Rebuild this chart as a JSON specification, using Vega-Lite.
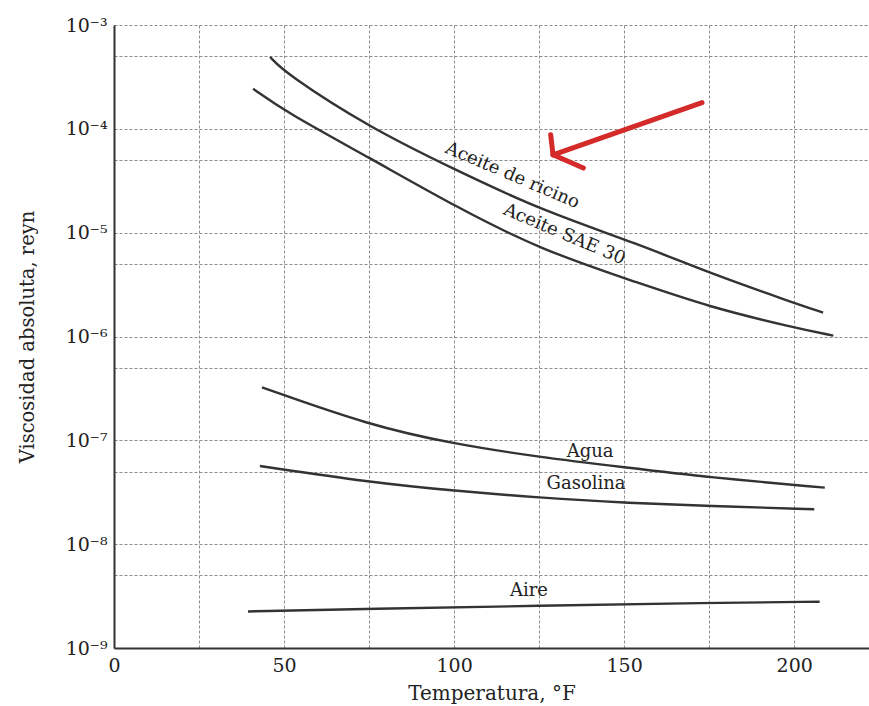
{
  "$schema": "https://vega.github.io/schema/vega-lite/v6.json",
  "width": 755,
  "height": 623,
  "autosize": {"type": "none"},
  "padding": {"left": 114, "top": 25, "right": 0, "bottom": 58},
  "background": "white",
  "config": {"view": {"stroke": null}, "font": "DejaVu Serif"},
  "datasets": {
    "curves": [
      {"fluid": "Aceite de ricino", "t": 45.9, "v": 4.92e-4},
      {"fluid": "Aceite de ricino", "t": 50.3, "v": 3.45e-4},
      {"fluid": "Aceite de ricino", "t": 75.3, "v": 1.02e-4},
      {"fluid": "Aceite de ricino", "t": 100.3, "v": 4.04e-5},
      {"fluid": "Aceite de ricino", "t": 125.3, "v": 1.66e-5},
      {"fluid": "Aceite de ricino", "t": 154.7, "v": 7.67e-6},
      {"fluid": "Aceite de ricino", "t": 174.7, "v": 4.12e-6},
      {"fluid": "Aceite de ricino", "t": 199.7, "v": 2.12e-6},
      {"fluid": "Aceite de ricino", "t": 208.5, "v": 1.70e-6},
      {"fluid": "Aceite SAE 30", "t": 40.9, "v": 2.43e-4},
      {"fluid": "Aceite SAE 30", "t": 50.3, "v": 1.47e-4},
      {"fluid": "Aceite SAE 30", "t": 75.3, "v": 5.22e-5},
      {"fluid": "Aceite SAE 30", "t": 100.3, "v": 1.79e-5},
      {"fluid": "Aceite SAE 30", "t": 125.3, "v": 6.87e-6},
      {"fluid": "Aceite SAE 30", "t": 154.7, "v": 3.24e-6},
      {"fluid": "Aceite SAE 30", "t": 174.7, "v": 1.94e-6},
      {"fluid": "Aceite SAE 30", "t": 199.7, "v": 1.22e-6},
      {"fluid": "Aceite SAE 30", "t": 211.5, "v": 1.02e-6},
      {"fluid": "Agua", "t": 43.5, "v": 3.24e-7},
      {"fluid": "Agua", "t": 75.2, "v": 1.39e-7},
      {"fluid": "Agua", "t": 100.2, "v": 9.2e-8},
      {"fluid": "Agua", "t": 125.0, "v": 6.9e-8},
      {"fluid": "Agua", "t": 150.1, "v": 5.5e-8},
      {"fluid": "Agua", "t": 174.9, "v": 4.4e-8},
      {"fluid": "Agua", "t": 209.0, "v": 3.5e-8},
      {"fluid": "Gasolina", "t": 42.9, "v": 5.66e-8},
      {"fluid": "Gasolina", "t": 75.2, "v": 3.95e-8},
      {"fluid": "Gasolina", "t": 100.2, "v": 3.26e-8},
      {"fluid": "Gasolina", "t": 125.0, "v": 2.81e-8},
      {"fluid": "Gasolina", "t": 150.1, "v": 2.5e-8},
      {"fluid": "Gasolina", "t": 174.9, "v": 2.33e-8},
      {"fluid": "Gasolina", "t": 205.9, "v": 2.17e-8},
      {"fluid": "Aire", "t": 39.4, "v": 2.25e-9},
      {"fluid": "Aire", "t": 75.0, "v": 2.38e-9},
      {"fluid": "Aire", "t": 125.0, "v": 2.55e-9},
      {"fluid": "Aire", "t": 175.0, "v": 2.72e-9},
      {"fluid": "Aire", "t": 207.5, "v": 2.79e-9}
    ],
    "oilLabels": [
      {"label": "Aceite de ricino", "t": 117.1, "v": 3.53e-5},
      {"label": "Aceite SAE 30", "t": 132.4, "v": 9.57e-6}
    ],
    "flatLabels": [
      {"label": "Agua", "t": 140.0, "v": 7.8e-8},
      {"label": "Gasolina", "t": 138.8, "v": 3.78e-8},
      {"label": "Aire", "t": 122.0, "v": 3.53e-9}
    ],
    "arrow": [
      {"part": "shaft", "t1": 172.9, "v1": 1.79e-4, "t2": 129.1, "v2": 5.62e-5},
      {"part": "arm1", "t1": 129.1, "v1": 5.62e-5, "t2": 128.4, "v2": 8.75e-5},
      {"part": "arm2", "t1": 129.1, "v1": 5.62e-5, "t2": 138.0, "v2": 4.19e-5}
    ]
  },
  "layer": [
    {
      "data": {"name": "curves"},
      "mark": {"type": "line", "interpolate": "basis", "color": "#333333", "strokeWidth": 2.4},
      "encoding": {
        "x": {
          "field": "t", "type": "quantitative",
          "scale": {"domain": [0, 222], "nice": false, "zero": false},
          "axis": {
            "title": "Temperatura, °F",
            "values": [0, 25, 50, 75, 100, 125, 150, 175, 200],
            "labelExpr": "datum.value % 50 === 0 ? datum.label : ''",
            "labelFlush": false, "labelOverlap": false,
            "ticks": false, "grid": true, "gridDash": [3, 2], "gridColor": "#8c8c8c", "gridWidth": 1,
            "domainColor": "#333333", "domainWidth": 2,
            "labelFont": "DejaVu Serif", "labelFontSize": 19, "labelColor": "#222222", "labelPadding": 8,
            "titleFont": "DejaVu Serif", "titleFontSize": 20, "titleFontWeight": "normal", "titleColor": "#222222", "titlePadding": 8
          }
        },
        "y": {
          "field": "v", "type": "quantitative",
          "scale": {"type": "log", "domain": [1e-9, 1e-3], "nice": false},
          "axis": {
            "title": "Viscosidad absoluta, reyn",
            "values": [1e-9, 5e-9, 1e-8, 5e-8, 1e-7, 5e-7, 1e-6, 5e-6, 1e-5, 5e-5, 1e-4, 5e-4, 1e-3],
            "labelExpr": "abs(log(datum.value)/LN10 - round(log(datum.value)/LN10)) < 0.01 ? '10⁻' + ['⁰','¹','²','³','⁴','⁵','⁶','⁷','⁸','⁹'][-round(log(datum.value)/LN10)] : ''",
            "labelOverlap": false,
            "ticks": false, "grid": true, "gridDash": [3, 2], "gridColor": "#8c8c8c", "gridWidth": 1,
            "domainColor": "#333333", "domainWidth": 2,
            "labelFont": "DejaVu Serif", "labelFontSize": 19, "labelColor": "#222222", "labelPadding": 7,
            "titleFont": "DejaVu Serif", "titleFontSize": 19.5, "titleFontWeight": "normal", "titleColor": "#222222", "titlePadding": 28
          }
        },
        "detail": {"field": "fluid"}
      }
    },
    {
      "data": {"name": "oilLabels"},
      "mark": {"type": "text", "font": "DejaVu Serif", "fontSize": 18, "color": "#222222", "angle": 23, "align": "center", "baseline": "middle"},
      "encoding": {
        "x": {"field": "t", "type": "quantitative"},
        "y": {"field": "v", "type": "quantitative"},
        "text": {"field": "label"}
      }
    },
    {
      "data": {"name": "flatLabels"},
      "mark": {"type": "text", "font": "DejaVu Serif", "fontSize": 18, "color": "#222222", "align": "center", "baseline": "middle"},
      "encoding": {
        "x": {"field": "t", "type": "quantitative"},
        "y": {"field": "v", "type": "quantitative"},
        "text": {"field": "label"}
      }
    },
    {
      "data": {"name": "arrow"},
      "mark": {"type": "rule", "color": "#d42a2a", "strokeWidth": 5, "strokeCap": "round"},
      "encoding": {
        "x": {"field": "t1", "type": "quantitative"},
        "y": {"field": "v1", "type": "quantitative"},
        "x2": {"field": "t2"},
        "y2": {"field": "v2"}
      }
    }
  ]
}
